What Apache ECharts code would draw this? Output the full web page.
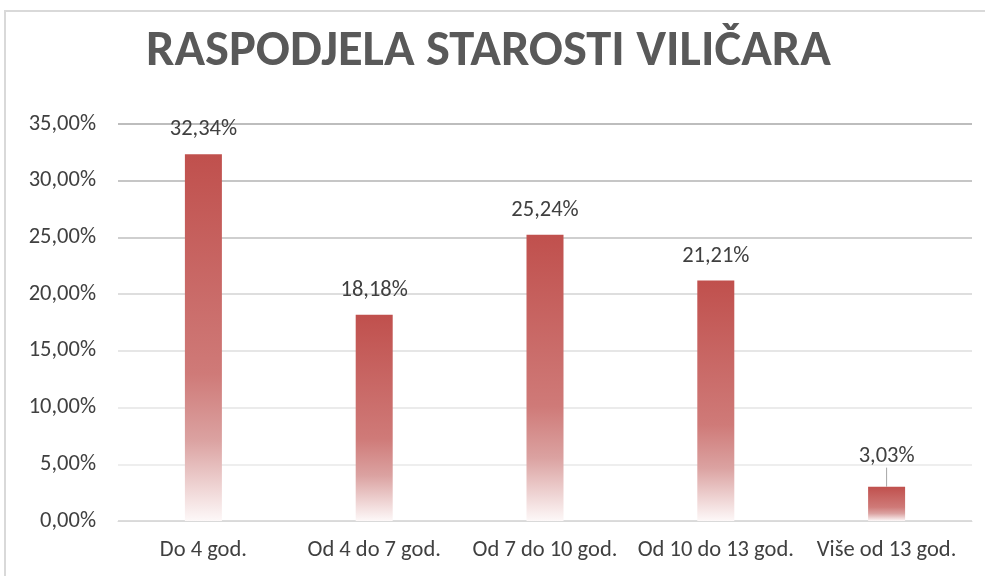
<!DOCTYPE html>
<html><head><meta charset="utf-8">
<script src="https://cdn.jsdelivr.net/npm/echarts@6/dist/echarts.min.js"></script>
<style>html,body{margin:0;padding:0;background:#fff}#c{width:985px;height:576px}</style>
</head><body><div id="c"></div>
<script>
const titleText = 'RASPODJELA STAROSTI VILIČARA';
const categories = ['Do 4 god.', 'Od 4 do 7 god.', 'Od 7 do 10 god.', 'Od 10 do 13 god.', 'Više od 13 god.'];
const values = [32.34, 18.18, 25.24, 21.21, 3.03];
const yTicks = [0, 5, 10, 15, 20, 25, 30, 35];

const FONT = 'Carlito, "Liberation Sans Narrow", "Open Sans", sans-serif';
const fmt = v => v.toFixed(2).replace('.', ',') + '%';
const chart = echarts.init(document.getElementById('c'));
chart.setOption({
  animation: false,
  title: {
    text: titleText, left: 141, top: 22,
    textStyle: { fontFamily: FONT, fontWeight: 'bold', fontSize: 50.5, color: '#595959' }
  },
  graphic: [{ type: 'rect', shape: { x: 5, y: 11, width: 1000, height: 600 }, style: { fill: 'none', stroke: '#d9d9d9', lineWidth: 2 }, silent: true }],
  grid: { left: 118, right: 13, top: 124, bottom: 55 },
  xAxis: {
    type: 'category', data: categories,
    axisLine: { lineStyle: { color: '#d9d9d9', width: 1 } },
    axisTick: { show: false },
    axisLabel: { fontFamily: FONT, fontSize: 22.5, color: '#404040', margin: 18, interval: 0, hideOverlap: false }
  },
  yAxis: {
    type: 'value', min: yTicks[0], max: yTicks[yTicks.length - 1], interval: 5,
    axisLine: { show: false }, axisTick: { show: false },
    axisLabel: { fontFamily: FONT, fontSize: 22.5, color: '#404040', margin: 22, formatter: v => fmt(v) },
    splitLine: { lineStyle: { color: ['#dcdcdc', '#eeeeee', '#ebebeb', '#e6e6e6', '#dedede', '#cfcfcf', '#c6c6c6', '#bdbdbd'], width: 2 } }
  },
  series: [{
    type: 'bar', barWidth: 37,
    data: values.map((v, i) => i === values.length - 1
      ? { value: v, labelLine: { show: true, lineStyle: { color: '#a6a6a6', width: 1 } } }
      : { value: v, labelLine: { show: false } }),
    itemStyle: {
      color: new echarts.graphic.LinearGradient(0, 0, 0, 1, [
        { offset: 0, color: '#c0504d' },
        { offset: 0.6, color: '#cf7a78' },
        { offset: 0.78, color: '#dba2a1' },
        { offset: 1, color: '#fdf8f8' }
      ])
    },
    label: {
      show: true, position: 'top', distance: 13,
      fontFamily: FONT, fontSize: 22.5, color: '#404040', formatter: p => fmt(p.value)
    },
    labelLayout: p => p.dataIndex === values.length - 1 ? { dy: -6 } : {},
    labelLine: { show: false }
  }]
});
</script></body></html>
